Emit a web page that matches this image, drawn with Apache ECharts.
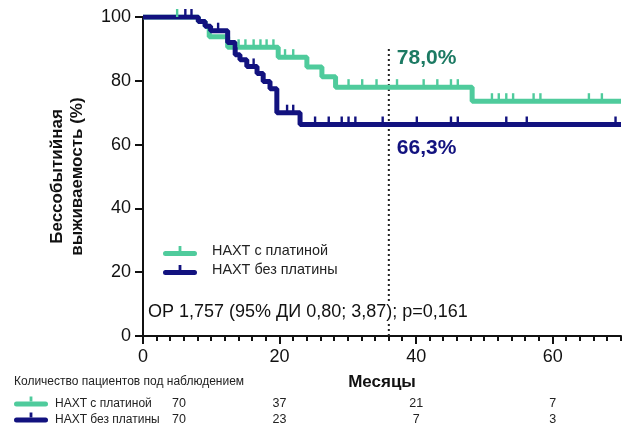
<!DOCTYPE html>
<html>
<head>
<meta charset="utf-8">
<script src="https://cdn.jsdelivr.net/npm/echarts@6/dist/echarts.min.js"></script>
<style>
  html, body { margin: 0; padding: 0; background: #fff; }
  #chart { width: 627px; height: 430px; }
</style>
</head>
<body>
<div id="chart"></div>
<script>
// Event-free survival by treatment arm (Kaplan–Meier steps: [month, survival %])
const groupNames = ['НАХТ с платиной', 'НАХТ без платины'];

const platinumSteps = [
  [0, 100], [8.1, 98.6], [9.1, 97.1], [9.7, 93.8], [12.4, 90.5], [19.8, 87.4],
  [24.0, 84.3], [26.2, 81.3], [28.2, 78.0], [48.2, 73.6], [70, 73.6]
];
const platinumCensored = [
  5.0, 14.0, 15.0, 16.2, 17.2, 18.1, 19.1, 20.8, 22.0, 30.1, 32.1, 34.2,
  37.2, 41.1, 43.1, 45.1, 46.1, 51.1, 52.1, 53.2, 54.2, 57.2, 58.2, 65.3, 67.2
];

const noPlatinumSteps = [
  [0, 100], [8.1, 98.6], [9.1, 97.1], [9.9, 95.7], [12.4, 92.0], [13.5, 88.2],
  [14.2, 86.6], [15.2, 84.5], [16.7, 82.3], [17.6, 79.8], [18.6, 77.5],
  [19.6, 70.0], [23.0, 66.3], [70, 66.3]
];
const noPlatinumCensored = [
  6.2, 7.1, 11.0, 16.2, 21.1, 22.0, 25.2, 27.2, 29.1, 30.1, 31.1, 35.1,
  40.1, 45.1, 46.1, 53.2, 56.2, 69.2
];

// 3-year landmark
const landmarkMonth = 36;
const landmarkSurvival = [78.0, 66.3];
const landmarkTop = 90;

// Axis tick layout
const xMax = 70;
const xLabelStep = 20;
const xMinorStep = 2;
const yTicks = [0, 20, 40, 60, 80, 100];

// Number at risk
const riskTimes = [0, 20, 40, 60];
const riskPlatinum = [70, 37, 21, 7];
const riskNoPlatinum = [70, 23, 7, 3];

const hazardText = 'ОР 1,757 (95% ДИ 0,80; 3,87); p=0,161';

const colors = ['#4fcb9c', '#12127f'];
const labelColors = ['#1c7a63', '#12127f'];
const FONT = '"Liberation Sans", Arial, sans-serif';
const GRID = { left: 143, right: 6, top: 17, bottom: 94 };

function survivalAt(steps, t) {
  let s = steps[0][1];
  for (const [m, v] of steps) { if (m <= t) s = v; else break; }
  return s;
}
function pct(v) { return v.toFixed(1).replace('.', ',') + '%'; }

// tick positions along the month axis (every 2 months)
const tickMonths = [];
for (let m = 0; m <= xMax; m += xMinorStep) tickMonths.push(m);
const isMajor = v => Number(v) % xLabelStep === 0;

const legendIcon = 'path://M2.5,5 H31.5 A2.5,2.5 0 0 1 31.5,10 H2.5 A2.5,2.5 0 0 1 2.5,5 Z M15.6,0 H18.4 V5 H15.6 Z';

const chart = echarts.init(document.getElementById('chart'), null, { renderer: 'canvas' });

function censorSeries(name, months, steps, color) {
  return {
    name: name, type: 'scatter', xAxisIndex: 0, yAxisIndex: 0,
    symbol: 'rect', symbolSize: [2.4, 8], symbolOffset: [0, -4],
    itemStyle: { color: color, opacity: 1 }, silent: true, z: 4,
    data: months.map(m => [m, survivalAt(steps, m)])
  };
}

const option = {
  animation: false,
  textStyle: { fontFamily: FONT },
  grid: Object.assign({ containLabel: false }, GRID),
  legend: {
    left: 163, top: 244, orient: 'vertical', itemGap: 5, padding: 0,
    itemWidth: 34, itemHeight: 10,
    textStyle: { fontSize: 14.4, color: '#222', fontFamily: FONT, padding: [0, 0, 0, 10] },
    data: [
      { name: groupNames[0], icon: legendIcon, itemStyle: { color: colors[0] } },
      { name: groupNames[1], icon: legendIcon, itemStyle: { color: colors[1] } }
    ],
    selectedMode: false
  },
  xAxis: [
    {
      type: 'value', min: 0, max: xMax, position: 'bottom',
      name: 'Месяцы', nameLocation: 'middle', nameGap: 38,
      nameTextStyle: { fontSize: 17, fontWeight: 'bold', color: '#111', fontFamily: FONT },
      axisLine: { show: true, onZero: false, lineStyle: { color: '#111', width: 2 } },
      axisTick: { show: false },
      axisLabel: { show: false },
      splitLine: { show: false }
    },
    {
      // month labels every 20
      type: 'category', data: tickMonths.map(String), boundaryGap: false,
      position: 'bottom', offset: 0,
      axisLine: { show: false, onZero: false },
      axisTick: { show: false },
      axisLabel: { show: true, interval: (i, v) => isMajor(v), fontSize: 18, color: '#111', margin: 12 },
      splitLine: { show: false }
    }
  ],
  yAxis: {
    type: 'value', min: 0, max: 100, interval: 20,
    name: 'Бессобытийная\nвыживаемость (%)', nameLocation: 'middle', nameGap: 56,
    nameTextStyle: { fontSize: 17, fontWeight: 'bold', color: '#111', lineHeight: 20, fontFamily: FONT },
    axisLine: { show: true, lineStyle: { color: '#111', width: 2 } },
    axisTick: { show: true, length: 8, lineStyle: { color: '#111', width: 2 } },
    axisLabel: { fontSize: 18, color: '#111', margin: 12, customValues: yTicks },
    splitLine: { show: false }
  },
  series: [
    {
      name: 'landmark', type: 'line', silent: true, symbol: 'none', z: 1,
      lineStyle: { color: '#222', width: 2, type: [2, 3] },
      data: [[landmarkMonth, landmarkTop], [landmarkMonth, 0]]
    },
    {
      name: groupNames[0], type: 'line', step: 'end', symbol: 'none', z: 2,
      lineStyle: { color: colors[0], width: 5 }, itemStyle: { color: colors[0] },
      data: platinumSteps
    },
    {
      name: groupNames[1], type: 'line', step: 'end', symbol: 'none', z: 3,
      lineStyle: { color: colors[1], width: 5 }, itemStyle: { color: colors[1] },
      data: noPlatinumSteps
    },
    censorSeries('censor-1', platinumCensored, platinumSteps, colors[0]),
    censorSeries('censor-2', noPlatinumCensored, noPlatinumSteps, colors[1]),
    {
      name: 'landmark-values', type: 'scatter', silent: true, symbolSize: 0, z: 5,
      itemStyle: { color: '#fff', opacity: 1 },
      data: landmarkSurvival.map((v, i) => ({
        value: [landmarkMonth, v],
        label: {
          show: true, position: 'right', distance: 8,
          offset: i === 0 ? [0, -29] : [0, 24],
          formatter: pct(v), fontSize: 21, fontWeight: 'bold',
          color: labelColors[i], opacity: 1, fontFamily: FONT
        }
      }))
    }
  ]
};

chart.setOption(option);

const graphics = [];

// month ticks below the axis line: long at labelled months, short every 2 months
const axisY = chart.getHeight() - GRID.bottom;
tickMonths.forEach(m => {
  const px = Math.round(chart.convertToPixel({ xAxisIndex: 0 }, m));
  const len = isMajor(m) ? 7 : 4;
  graphics.push({
    type: 'rect', z: 100, silent: true,
    shape: { x: px - 1, y: axisY, width: 2, height: len + 1 },
    style: { fill: '#111' }
  });
});

// Number-at-risk table
graphics.push({
  type: 'text', left: 14, top: 376, z: 10,
  style: { text: 'Количество пациентов под наблюдением', fontSize: 12, fill: '#222', fontFamily: FONT }
});
const rowsY = [404, 420];
const rowCounts = [riskPlatinum, riskNoPlatinum];
rowsY.forEach((y, r) => {
  graphics.push({
    type: 'rect', z: 10, shape: { x: 14, y: y - 2.5, width: 34, height: 5, r: 2.5 },
    style: { fill: colors[r] }
  });
  graphics.push({
    type: 'rect', z: 10, shape: { x: 29.6, y: y - 7.5, width: 2.8, height: 5 },
    style: { fill: colors[r] }
  });
  graphics.push({
    type: 'text', z: 10, x: 55, y: y,
    style: { text: groupNames[r], fontSize: 12, fill: '#222', fontFamily: FONT, verticalAlign: 'middle' }
  });
  riskTimes.forEach((t, k) => {
    const px = chart.convertToPixel({ xAxisIndex: 0 }, t) + (t === 0 ? 36 : 0);
    graphics.push({
      type: 'text', z: 10, x: px, y: y,
      style: { text: String(rowCounts[r][k]), fontSize: 12.5, fill: '#222', fontFamily: FONT,
               align: 'center', verticalAlign: 'middle' }
    });
  });
});

// Hazard ratio
graphics.push({
  type: 'text', z: 10, x: 147, y: 312,
  style: { text: hazardText, fontSize: 18, fill: '#111', fontFamily: FONT,
           verticalAlign: 'middle', backgroundColor: '#fff', padding: [2, 1] }
});

chart.setOption({ graphic: graphics });
</script>
</body>
</html>
